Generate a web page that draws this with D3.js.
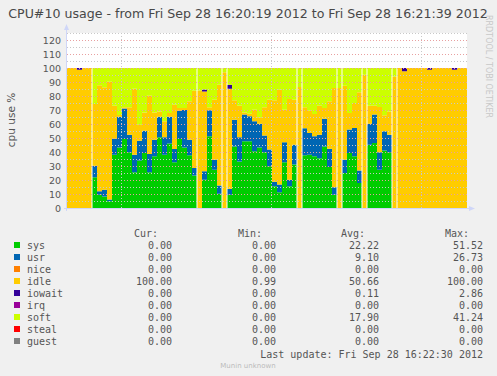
<!DOCTYPE html>
<html>
<head>
<meta charset="utf-8">
<script src="https://cdn.jsdelivr.net/npm/d3@7"></script>
<style>
  body { margin: 0; background: #f0f0f0; }
  svg { display: block; }
</style>
</head>
<body>
<div id="chart"></div>
<script>
// one sample per second, 80 samples from 16:20:19
const sys = [0,0,0,0,0, 21.9,9.5,8.3,4.8,38, 43.3,49.3,39.8,25.5,34, 39.3,25.5,36.9,50.5,38,
  46,32.6,49.3,43.3,37.6, 23.3,0,20.2,51.2,27.4, 10.2,0,9.5,44,33.3, 47.6,47.6,40.5,43.3,39.8,
  29.8,15.5,11.2,32.6,15.5, 31,0,37.6,38.1,36.9, 35.5,44,29.3,9.5,0, 25,39.3,36.9,17.9,0,
  45.2,46.4,27.4,41,39.8, 0,0,0,0,0, 0,0,0,0,0, 0,0,0,0,0];
const usr = [0,0,0,0,0, 8.3,2.4,4.8,1.2,11.5, 21.9,21.7,12.6,12.5,14, 15.9,13.1,11.9,14.7,12.5,
  19.2,9.5,20.2,26.7,11.2, 5.3,0,6,18.6,7.1, 5.8,0,4.3,19.1,17.2, 19.1,17.9,21.4,16.9,11.9,
  11.9,3.3,5.5,14.3,4.7, 14.2,0,19.3,15.5,14.3, 16.9,19.8,13.1,5.3,0, 9.5,16.7,20.2,8.8,0,
  15,20.3,12.4,13.8,12.6, 0,0,0,0,0, 0,0,0,0,0, 0,0,0,0,0];
const nice = [0,0,0,0,0,0,0,0,0,0,0,0,0,0,0,0,0,0,0,0,0,0,0,0,0,0,0,0,0,0,0,0,0,0,0,0,0,0,0,0,
  0,0,0,0,0,0,0,0,0,0,0,0,0,0,0,0,0,0,0,0,0,0,0,0,0,0,0,0,0,0,0,0,0,0,0,0,0,0,0,0];
const idle = [100,100,98.8,100,100, 44.1,75.7,73.1,84.2,23.5, 1.2,1,19.5,47.2,11.5, 13.1,41.6,19.5,3.8,11.5,
  2.7,31.7,1.9,1.4,27.4, 55.2,84,57.1,2.1,42.9, 72.1,96.9,71.4,13.8,22.6, 1.6,1.9,8.3,4.6,20.2,
  35.7,58.1,67.8,23.3,57.7, 32.2,86.4,15,15.9,15.9, 20.7,7.6,33.8,70.9,85.7, 52.9,11.9,17.9,55.9,95.2,
  12.9,6.4,32.3,11.4,16.6, 94,100,97.6,100,100, 100,100,98.8,100,100, 100,100,98.8,100,100];
const iowait = [0,0,1.2,0,0,0,0,0,0,0,0,0,0,0,0,0,0,0,0,0,0,0,0,0,0,0,0,1.4,0,0,0,0,2.86,0,0,0,0,0,0,0,
  0,0,0,0,0,0,0,0,0,0,0,0,0,0,0,0,0,0,0,0,0,0,0,0,0,0,0,2.4,0,0,0,0,1.2,0,0,0,0,1.2,0,0];
const irq = [0,0,0,0,0,0,0,0,0,0,0,0,0,0,0,0,0,0,0,0,0,0,0,0,0,0,0,0,0,0,0,0,0,0,0,0,0,0,0,0,
  0,0,0,0,0,0,0,0,0,0,0,0,0,0,0,0,0,0,0,0,0,0,0,0,0,0,0,0,0,0,0,0,0,0,0,0,0,0,0,0];
const soft = [0,0,0,0,0, 25.7,12.4,13.8,9.8,27, 33.6,28,28.1,14.8,40.5, 31.7,19.8,31.7,31,38,
  32.1,26.2,28.6,28.6,23.8, 16.2,16,15.3,28.1,22.6, 11.9,3.1,11.9,23.1,26.9, 31.7,32.6,29.8,35.2,28.1,
  22.6,23.1,15.5,29.8,22.1, 22.6,13.6,28.1,30.5,32.9, 26.9,28.6,23.8,14.3,14.3, 12.6,32.1,25,17.4,4.8,
  26.9,26.9,27.9,33.8,31, 6,0,0,0,0, 0,0,0,0,0, 0,0,0,0,0];
const steal = [0,0,0,0,0,0,0,0,0,0,0,0,0,0,0,0,0,0,0,0,0,0,0,0,0,0,0,0,0,0,0,0,0,0,0,0,0,0,0,0,
  0,0,0,0,0,0,0,0,0,0,0,0,0,0,0,0,0,0,0,0,0,0,0,0,0,0,0,0,0,0,0,0,0,0,0,0,0,0,0,0];
const guest = [0,0,0,0,0,0,0,0,0,0,0,0,0,0,0,0,0,0,0,0,0,0,0,0,0,0,0,0,0,0,0,0,0,0,0,0,0,0,0,0,
  0,0,0,0,0,0,0,0,0,0,0,0,0,0,0,0,0,0,0,0,0,0,0,0,0,0,0,0,0,0,0,0,0,0,0,0,0,0,0,0];
// sample indexes where the rrd graph shows a thin blank column
const gaps = [5, 26, 31, 32, 46, 47, 54, 55, 59, 60, 65, 66];

const names = ["sys", "usr", "nice", "idle", "iowait", "irq", "soft", "steal", "guest"];
const colors = ["#00cc00", "#0066b3", "#ff8000", "#ffcc00", "#330099", "#990099", "#ccff00", "#ff0000", "#808080"];
const series = [sys, usr, nice, idle, iowait, irq, soft, steal, guest];
const cur = ["0.00", "0.00", "0.00", "100.00", "0.00", "0.00", "0.00", "0.00", "0.00"];
const min = ["0.00", "0.00", "0.00", "0.99", "0.00", "0.00", "0.00", "0.00", "0.00"];
const avg = ["22.22", "9.10", "0.00", "50.66", "0.11", "0.00", "17.90", "0.00", "0.00"];
const max = ["51.52", "26.73", "0.00", "100.00", "2.86", "0.00", "41.24", "0.00", "0.00"];
const yTicks = [0, 10, 20, 30, 40, 50, 60, 70, 80, 90, 100, 110, 120];

const title = "CPU#10 usage - from Fri Sep 28 16:20:19 2012 to Fri Sep 28 16:21:39 2012";
const t0 = new Date(2012, 8, 28, 16, 20, 19);
const t1 = new Date(2012, 8, 28, 16, 21, 39);

const width = 497, height = 376;
const plot = { left: 67, right: 467, top: 33, bottom: 208 };

const svg = d3.select("#chart").append("svg")
  .attr("width", width)
  .attr("height", height)
  .style("font-family", "'DejaVu Sans', sans-serif");

svg.append("rect").attr("width", width).attr("height", height).attr("fill", "#f0f0f0");

const x = d3.scaleTime().domain([t0, t1]).range([plot.left, plot.right]);
const y = d3.scaleLinear().domain([0, 125]).range([plot.bottom, plot.top]);

svg.append("rect")
  .attr("x", plot.left).attr("y", plot.top)
  .attr("width", plot.right - plot.left).attr("height", plot.bottom - plot.top)
  .attr("fill", "#ffffff");

// rows, plus a closing row so the last step reaches the right edge
var rows = sys.map(function(d, i) {
  var r = { t: d3.timeSecond.offset(t0, i) };
  names.forEach(function(n, k) { r[n] = series[k][i]; });
  return r;
});
var last = Object.assign({}, rows[rows.length - 1]);
last.t = t1;
rows.push(last);

var stack = d3.stack().keys(names)(rows);

var area = d3.area()
  .curve(d3.curveStepAfter)
  .x(function(d) { return x(d.data.t); })
  .y0(function(d) { return y(d[0]); })
  .y1(function(d) { return y(d[1]); });

svg.append("g").selectAll("path")
  .data(stack)
  .enter().append("path")
  .attr("d", area)
  .attr("fill", function(d, i) { return colors[i]; });

svg.append("g").selectAll("rect")
  .data(gaps)
  .enter().append("rect")
  .attr("x", function(d) { return x(d3.timeSecond.offset(t0, d)) - 0.5; })
  .attr("y", y(100))
  .attr("width", 1)
  .attr("height", y(0) - y(100))
  .attr("fill", "#ffffff");

// grid, drawn over the areas like rrdtool does
var grid = svg.append("g");
d3.range(5, 126, 5).forEach(function(v) {
  var major = v % 10 === 0;
  grid.append("line")
    .attr("x1", plot.left).attr("x2", plot.right + 1)
    .attr("y1", y(v) + 0.5).attr("y2", y(v) + 0.5)
    .attr("stroke", major ? "#e8a0a0" : "#c8c8c8")
    .attr("stroke-dasharray", "1,2");
});
x.ticks(d3.timeSecond.every(30)).forEach(function(t) {
  grid.append("line")
    .attr("x1", Math.round(x(t)) - 0.5).attr("x2", Math.round(x(t)) - 0.5)
    .attr("y1", plot.top).attr("y2", plot.bottom)
    .attr("stroke", "#c8c8c8")
    .attr("stroke-dasharray", "1,2");
});

// axes with arrows
svg.append("line")
  .attr("x1", plot.left - 0.5).attr("x2", plot.left - 0.5)
  .attr("y1", plot.bottom + 3).attr("y2", plot.top - 4)
  .attr("stroke", "#cfd6f8");
svg.append("line")
  .attr("x1", plot.left - 3).attr("x2", plot.right + 4)
  .attr("y1", plot.bottom + 0.5).attr("y2", plot.bottom + 0.5)
  .attr("stroke", "#cfd6f8");
svg.append("path")
  .attr("d", "M" + (plot.left - 3) + "," + (plot.top - 3) + "L" + (plot.left - 0.5) + "," + (plot.top - 9) + "L" + (plot.left + 2) + "," + (plot.top - 3) + "Z")
  .attr("fill", "#cfd6f8");
svg.append("path")
  .attr("d", "M" + (plot.right + 2) + "," + (plot.bottom - 2) + "L" + (plot.right + 8) + "," + (plot.bottom + 0.5) + "L" + (plot.right + 2) + "," + (plot.bottom + 3) + "Z")
  .attr("fill", "#cfd6f8");

svg.append("g").selectAll("text")
  .data(yTicks)
  .enter().append("text")
  .attr("x", 61)
  .attr("y", function(d) { return y(d) + 3.5; })
  .attr("text-anchor", "end")
  .attr("font-size", "9.5px")
  .attr("fill", "#555")
  .text(function(d) { return d; });

svg.append("text")
  .attr("transform", "translate(15,120) rotate(-90)")
  .attr("text-anchor", "middle")
  .attr("font-size", "10.5px")
  .attr("fill", "#555")
  .text("cpu use %");

svg.append("text")
  .attr("x", 248).attr("y", 18)
  .attr("text-anchor", "middle")
  .attr("font-size", "12.6px")
  .attr("fill", "#484848")
  .text(title);

svg.append("text")
  .attr("transform", "translate(486,15) rotate(90)")
  .attr("font-size", "8px")
  .attr("fill", "#c8c8c8")
  .text("RRDTOOL / TOBI OETIKER");

// legend
var mono = "'DejaVu Sans Mono', monospace";
var cols = [172, 276, 379, 483];
var heads = ["Cur:", "Min:", "Avg:", "Max:"];
var table = [cur, min, avg, max];

heads.forEach(function(h, c) {
  svg.append("text")
    .attr("x", cols[c] - 14).attr("y", 237)
    .attr("text-anchor", "end")
    .attr("font-family", mono)
    .attr("font-size", "10px")
    .attr("fill", "#555")
    .text(h);
});

var legend = svg.append("g").selectAll("g")
  .data(names)
  .enter().append("g")
  .attr("transform", function(d, i) { return "translate(0," + (245 + i * 12) + ")"; });

legend.append("rect")
  .attr("x", 14).attr("y", -3)
  .attr("width", 6).attr("height", 6)
  .attr("fill", function(d, i) { return colors[i]; });

legend.append("text")
  .attr("x", 27).attr("y", 3.5)
  .attr("font-family", mono)
  .attr("font-size", "10px")
  .attr("fill", "#555")
  .text(function(d) { return d; });

table.forEach(function(col, c) {
  legend.append("text")
    .attr("x", cols[c]).attr("y", 3.5)
    .attr("text-anchor", "end")
    .attr("font-family", mono)
    .attr("font-size", "10px")
    .attr("fill", "#555")
    .text(function(d, i) { return col[i]; });
});

svg.append("text")
  .attr("x", 483).attr("y", 358)
  .attr("text-anchor", "end")
  .attr("font-family", mono)
  .attr("font-size", "10px")
  .attr("fill", "#555")
  .text("Last update: Fri Sep 28 16:22:30 2012");

svg.append("text")
  .attr("x", 248).attr("y", 368)
  .attr("text-anchor", "middle")
  .attr("font-size", "7px")
  .attr("fill", "#bbb")
  .text("Munin unknown");
</script>
</body>
</html>
